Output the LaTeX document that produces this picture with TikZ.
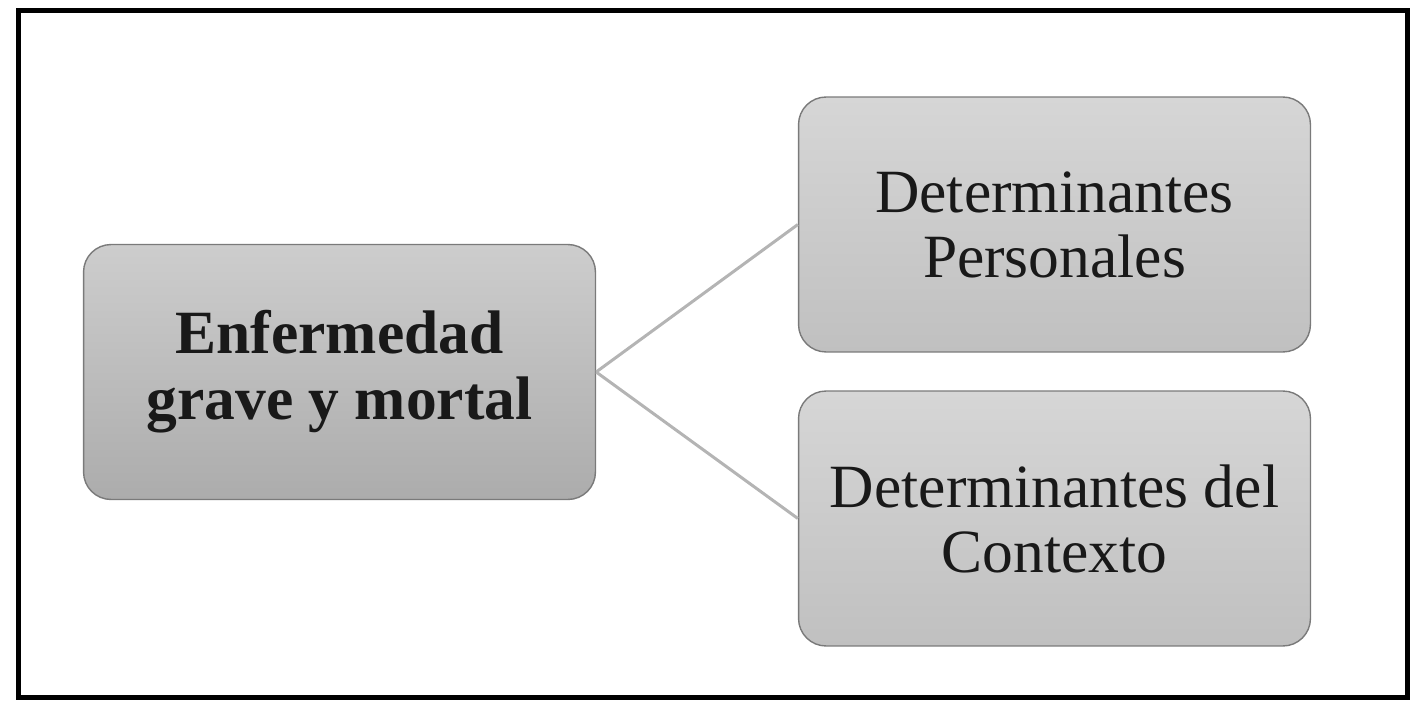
\documentclass[tikz,border=0pt]{standalone}
\usepackage{fontspec}
\setmainfont{Liberation Serif}
\definecolor{boxline}{HTML}{7A7A7A}
\definecolor{edgegray}{HTML}{B4B4B4}
\definecolor{roottop}{HTML}{CDCDCD}
\definecolor{rootbot}{HTML}{ACACAC}
\definecolor{leaftop}{HTML}{D6D6D6}
\definecolor{leafbot}{HTML}{C0C0C0}
\begin{document}
\begin{tikzpicture}[x=0.02cm, y=-0.02cm,
		main node/.style={rectangle, rounded corners=0.55cm, draw=boxline, line width=0.8pt,
			minimum width=10.24cm, minimum height=5.1cm, inner sep=0pt, align=center, text=black!90},
		root node/.style={main node, top color=roottop, bottom color=rootbot,
			font=\fontsize{35}{37.5}\selectfont\bfseries},
		leaf node/.style={main node, top color=leaftop, bottom color=leafbot,
			font=\fontsize{35}{37}\selectfont}]

		\useasboundingbox (0,0) rectangle (1426,702);
		\draw[line width=0.1cm] (18.5,10.5) rectangle (1407.5,697.5);

		\node[root node] (E) at (339.5,372) {Enfermedad\\grave y mortal};
		\node[leaf node] (P) at (1054.5,224.5) {Determinantes\\Personales};
		\node[leaf node] (C) at (1054.5,518.5) {Determinantes del\\Contexto};

		\path[draw=edgegray, line width=0.06cm]
		(E.east) edge (P.west)
		(E.east) edge (C.west);
		\end{tikzpicture}
\end{document}
